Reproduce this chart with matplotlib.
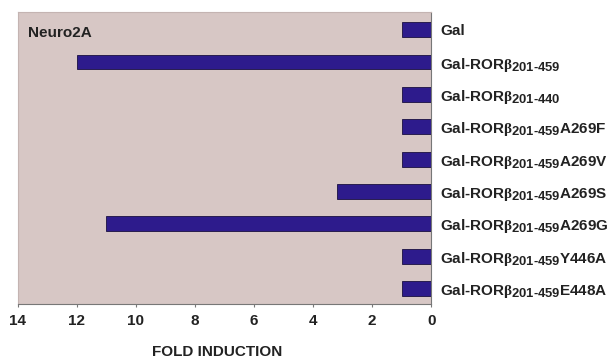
import matplotlib
matplotlib.use("Agg")
import matplotlib.pyplot as plt
import matplotlib._mathtext as mt

# subscripts in the reference are only slightly smaller than the main text
mt.SHRINK_FACTOR = 0.85

plt.rcParams["font.family"] = ["Liberation Sans", "DejaVu Sans"]
plt.rcParams["font.weight"] = "bold"
plt.rcParams["mathtext.fontset"] = "custom"
plt.rcParams["mathtext.rm"] = "Liberation Sans:bold"
plt.rcParams["mathtext.it"] = "Liberation Serif"
plt.rcParams["mathtext.bf"] = "Liberation Sans:bold"

constructs = [
    "Gal",
    r"Gal-ROR$\beta_{\mathrm{201\text{-}459}}$",
    r"Gal-ROR$\beta_{\mathrm{201\text{-}440}}$",
    r"Gal-ROR$\beta_{\mathrm{201\text{-}459}}$A269F",
    r"Gal-ROR$\beta_{\mathrm{201\text{-}459}}$A269V",
    r"Gal-ROR$\beta_{\mathrm{201\text{-}459}}$A269S",
    r"Gal-ROR$\beta_{\mathrm{201\text{-}459}}$A269G",
    r"Gal-ROR$\beta_{\mathrm{201\text{-}459}}$Y446A",
    r"Gal-ROR$\beta_{\mathrm{201\text{-}459}}$E448A",
]
fold_induction = [1.0, 12.0, 1.0, 1.0, 1.0, 3.2, 11.0, 1.0, 1.0]
x_ticks = [14, 12, 10, 8, 6, 4, 2, 0]

fig = plt.figure(figsize=(6.16, 3.6), dpi=100)
ax = fig.add_axes([0.029, 0.156, 0.671, 0.811])
ax.set_facecolor("#d7c7c5")

ypos = list(range(len(constructs)))
ax.barh(ypos, fold_induction, height=0.46, color="#2d1b8c",
        edgecolor="#1a1040", linewidth=0.6)

ax.set_xlim(14, 0)
ax.set_ylim(8.47, -0.55)
ax.set_xticks(x_ticks)
ax.set_xticklabels([str(t) for t in x_ticks], fontsize=11, fontweight="bold")

ax.yaxis.tick_right()
ax.set_yticks(ypos)
ax.set_yticklabels(constructs, fontsize=11, fontweight="bold", color="#222222")
ax.tick_params(axis="y", length=0, pad=6.5)
ax.tick_params(axis="x", length=2.5, pad=5, color="#777777", labelcolor="#222222")

for side in ["top", "left"]:
    ax.spines[side].set_color("#c4b4b2")
    ax.spines[side].set_linewidth(0.8)
for side in ["bottom", "right"]:
    ax.spines[side].set_color("#777777")
    ax.spines[side].set_linewidth(0.8)

ax.text(0.024, 0.928, "Neuro2A", transform=ax.transAxes, fontsize=11,
        fontweight="bold", color="#222222", va="center", ha="left")

fig.text(0.352, 0.022, "FOLD INDUCTION", fontsize=11, fontweight="bold",
         color="#222222", ha="center", va="center")

fig.savefig("out.png", dpi=100)
